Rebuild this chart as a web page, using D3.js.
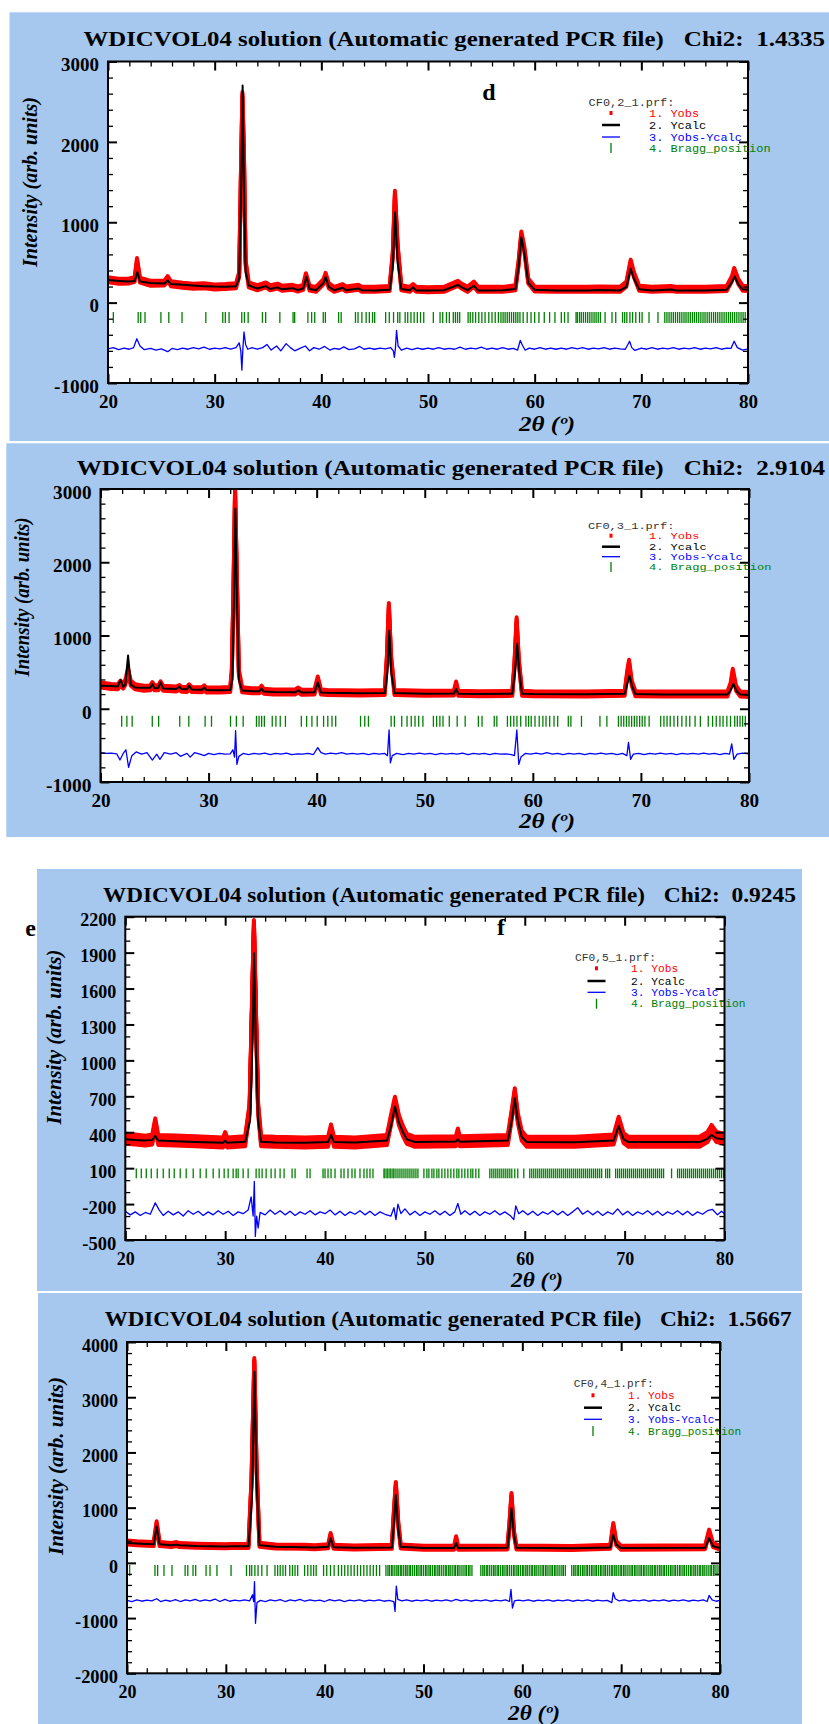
<!DOCTYPE html>
<html><head><meta charset="utf-8">
<script src="https://cdn.jsdelivr.net/npm/d3@7"></script>
<style>body{margin:0;background:#fff}svg{display:block}</style>
</head><body><svg id="c" width="829" height="1724"></svg>
<script>
// ---------------- DATA ----------------
const xTicks = [20,30,40,50,60,70,80];
const yTicksA = [-1000,0,1000,2000,3000];
const yTicksB = [-1000,0,1000,2000,3000];
const yTicksC = [-500,-200,100,400,700,1000,1300,1600,1900,2200];
const yTicksD = [-2000,-1000,0,1000,2000,3000,4000];
const fileNames = ['CF0,2_1.prf:','CF0,3_1.prf:','CF0,5_1.prf:','CF0,4_1.prf:'];
const chiValues = ['1.4335','2.9104','0.9245','1.5667'];
const legendLabels = ['1. Yobs','2. Ycalc','3. Yobs-Ycalc','4. Bragg_position'];
const titleText = 'WDICVOL04 solution (Automatic generated PCR file)';

// Panel A (CF0,2)
const obsA = [[20,285],[21,265],[22,270],[22.5,290],[22.72,525],[23.0,280],[24,240],[25.3,245],[25.6,300],[25.9,235],[27,215],[28,205],[29,210],[30,195],[31,200],[32,210],[32.3,350],[32.45,1500],[32.6,2590],[32.75,1800],[32.9,500],[33.2,220],[34,185],[34.8,220],[35.2,185],[35.9,205],[36.3,180],[37.3,190],[37.8,170],[38.3,190],[38.55,335],[38.9,180],[39.5,165],[40.2,260],[40.4,340],[40.7,210],[41.2,165],[42,200],[42.3,170],[43.5,190],[43.8,165],[45,165],[46.4,175],[46.7,600],[46.9,1360],[47.15,700],[47.5,185],[48.3,165],[48.6,200],[48.9,165],[50,160],[51.5,165],[52.8,240],[53.1,210],[53.7,165],[54.3,230],[54.7,165],[57,165],[58.2,185],[58.5,500],[58.75,855],[59.05,650],[59.4,270],[60,170],[62,165],[65,165],[66,170],[68,165],[68.6,230],[69.0,504],[69.3,350],[69.8,180],[71,165],[72.8,175],[73.3,165],[76,165],[78,175],[78.5,300],[78.7,400],[79.1,260],[79.5,180],[80,175]];
const calcA = [[20,280],[21,270],[22,262],[22.5,268],[22.75,380],[23.0,262],[24,245],[25.3,238],[25.6,275],[25.9,232],[27,222],[28,212],[29,205],[30,200],[31,198],[32,205],[32.3,300],[32.5,1500],[32.62,2700],[32.75,1400],[32.9,380],[33.2,215],[34,175],[34.8,205],[35.2,170],[35.9,190],[36.3,165],[37.3,180],[37.8,158],[38.3,175],[38.6,318],[38.9,170],[39.5,155],[40.2,245],[40.4,318],[40.7,195],[41.2,155],[42,185],[42.3,155],[43.5,175],[43.8,155],[45,152],[46.4,160],[46.7,450],[46.92,1124],[47.15,500],[47.5,170],[48.3,155],[48.6,190],[48.9,152],[50,150],[51.5,155],[52.8,220],[53.1,195],[53.7,155],[54.3,210],[54.7,152],[57,155],[58.2,170],[58.5,450],[58.75,814],[59.05,600],[59.4,245],[60,160],[62,152],[65,152],[66,157],[68,152],[68.6,195],[69.0,421],[69.3,300],[69.8,165],[71,152],[72.8,163],[73.3,152],[76,152],[78,160],[78.5,255],[78.75,326],[79.1,225],[79.5,165],[80,160]];
const diffA = [[20,-575],[20.5,-560],[21,-585],[21.5,-565],[22,-580],[22.4,-560],[22.7,-450],[23.0,-540],[23.4,-585],[24,-570],[24.5,-590],[25,-575],[25.6,-610],[26,-570],[26.5,-585],[27,-565],[27.5,-580],[28,-560],[28.5,-575],[29,-555],[29.5,-580],[30,-565],[30.5,-575],[31,-560],[31.5,-580],[32,-560],[32.3,-500],[32.45,-600],[32.55,-840],[32.65,-560],[32.75,-365],[32.9,-520],[33.1,-580],[33.5,-560],[34,-580],[34.5,-560],[34.9,-520],[35.3,-590],[35.8,-540],[36.2,-600],[36.7,-510],[37.1,-560],[37.5,-600],[38,-570],[38.5,-540],[38.9,-600],[39.3,-560],[39.8,-580],[40.3,-545],[40.8,-590],[41.2,-570],[41.7,-580],[42.1,-550],[42.6,-585],[43.1,-575],[43.6,-545],[44,-580],[44.5,-565],[45,-580],[45.5,-565],[46,-575],[46.5,-560],[46.75,-600],[46.85,-680],[46.95,-560],[47.05,-345],[47.2,-540],[47.5,-590],[48,-565],[48.5,-585],[49,-565],[49.5,-580],[50,-565],[50.5,-580],[51,-560],[51.5,-580],[52,-570],[52.5,-580],[53,-555],[53.5,-580],[54,-565],[54.5,-575],[55,-555],[55.5,-580],[56,-565],[56.5,-580],[57,-560],[57.5,-580],[58,-570],[58.4,-590],[58.65,-470],[58.85,-530],[59.1,-590],[59.5,-565],[60,-580],[60.5,-560],[61,-580],[61.5,-565],[62,-580],[62.5,-565],[63,-580],[63.5,-560],[64,-575],[64.5,-560],[65,-580],[65.5,-565],[66,-575],[66.5,-560],[67,-580],[67.5,-565],[68,-575],[68.5,-580],[68.9,-480],[69.1,-560],[69.4,-595],[70,-565],[70.5,-580],[71,-560],[71.5,-580],[72,-565],[72.5,-575],[73,-560],[73.5,-580],[74,-565],[74.5,-575],[75,-560],[75.5,-580],[76,-565],[76.5,-575],[77,-560],[77.5,-580],[78,-565],[78.4,-570],[78.7,-480],[79,-560],[79.5,-590],[80,-575]];
const braggA = [20.5,22.83,23.07,23.47,24.96,25.7,26.94,29.17,30.76,31.0,31.35,32.54,32.79,33.14,34.48,34.78,36.11,37.35,37.5,38.74,39.09,39.38,40.18,40.38,41.62,41.86,43.2,43.44,43.8,44.2,44.5,44.8,45.0,46.03,46.37,46.77,47.16,47.36,47.86,48.1,48.4,48.7,49.0,49.3,49.6,50.5,51.13,51.38,51.73,52.0,52.37,52.57,52.77,52.97,53.76,53.96,54.2,54.46,54.76,55.05,55.35,55.7,56.0,56.3,56.6,56.84,57.04,57.23,57.43,57.63,57.83,58.03,58.23,58.42,58.62,58.92,59.3,59.66,60.0,60.4,60.9,61.4,61.9,62.5,62.8,63.13,63.88,64.0,64.2,64.37,64.57,64.77,64.97,65.17,65.37,65.57,65.76,65.96,66.16,66.6,67.25,67.6,68.24,68.44,68.64,68.93,69.18,69.48,69.83,70.07,70.72,71.56,72.2,72.4,72.6,72.8,73.0,73.2,73.4,73.6,73.8,74.0,74.19,74.39,74.59,74.79,74.98,75.18,75.38,75.58,75.78,75.97,76.17,76.37,76.57,76.77,76.96,77.16,77.36,77.56,77.76,77.96,78.16,78.35,78.55,78.75,78.95,79.15,79.35,79.54,79.74];

// Panel B (CF0,3)
const obsB = [[20,325],[21,305],[21.6,300],[21.85,350],[22.1,310],[22.3,360],[22.55,520],[22.8,350],[23.2,300],[24,280],[24.6,285],[24.8,330],[25.0,285],[25.35,285],[25.55,340],[25.8,280],[27,270],[27.3,290],[27.5,265],[28.0,262],[28.2,300],[28.45,262],[29.4,260],[29.6,285],[29.8,255],[31,255],[32,262],[32.15,500],[32.3,1600],[32.45,2986],[32.6,1900],[32.8,500],[33.1,260],[34,245],[34.7,245],[34.9,280],[35.1,240],[36,230],[38,230],[38.3,255],[38.6,225],[39.8,230],[40.1,406],[40.4,230],[41,222],[44,215],[46.3,222],[46.5,700],[46.68,1411],[46.88,700],[47.2,222],[50,210],[52.7,215],[52.9,338],[53.1,210],[55,205],[58.1,210],[58.3,600],[58.5,1215],[58.7,650],[59.0,210],[60,205],[65,200],[68.5,210],[68.75,500],[68.9,635],[69.15,350],[69.5,205],[72,200],[78,200],[78.3,320],[78.5,511],[78.8,280],[79.2,200],[80,195]];
const calcB = [[20,315],[21,310],[21.6,305],[21.85,393],[22.1,300],[22.3,330],[22.55,726],[22.8,330],[23.2,290],[24,285],[24.6,285],[24.8,338],[25.0,280],[25.35,285],[25.55,360],[25.8,278],[27,270],[27.3,300],[27.5,268],[28.0,265],[28.2,315],[28.45,262],[29.4,258],[29.6,290],[29.8,256],[31,252],[32,255],[32.2,400],[32.35,1500],[32.48,2735],[32.62,1500],[32.8,400],[33.1,250],[34,240],[34.7,240],[34.9,275],[35.1,235],[36,228],[38,225],[38.3,250],[38.6,222],[39.8,225],[40.1,360],[40.4,222],[41,218],[44,212],[46.3,215],[46.55,500],[46.72,1068],[46.9,500],[47.2,215],[50,205],[52.7,208],[52.9,270],[53.1,205],[55,200],[58.1,205],[58.35,500],[58.55,886],[58.75,500],[59.0,205],[60,200],[65,198],[68.5,205],[68.75,350],[68.95,452],[69.2,300],[69.5,200],[72,195],[78,195],[78.3,250],[78.55,338],[78.85,240],[79.2,195],[80,192]];
const diffB = [[20,-600],[20.5,-610],[21,-605],[21.5,-615],[21.8,-700],[22.1,-610],[22.35,-560],[22.6,-800],[22.9,-640],[23.3,-590],[23.8,-620],[24.3,-600],[24.8,-700],[25.2,-620],[25.5,-690],[25.9,-600],[26.5,-620],[27,-600],[27.4,-650],[28,-610],[28.3,-660],[28.7,-600],[29.2,-620],[29.6,-640],[30,-610],[30.5,-625],[31,-610],[31.5,-620],[32,-615],[32.25,-560],[32.4,-660],[32.5,-300],[32.62,-760],[32.8,-650],[33.2,-610],[33.7,-625],[34.2,-610],[34.7,-620],[35.2,-605],[35.7,-625],[36.2,-610],[36.7,-620],[37.2,-605],[37.7,-625],[38.2,-615],[38.7,-620],[39.2,-610],[39.7,-625],[40.1,-530],[40.4,-600],[40.8,-620],[41.3,-605],[41.8,-615],[42.3,-600],[42.8,-620],[43.3,-610],[43.8,-620],[44.3,-610],[44.8,-625],[45.3,-610],[45.8,-620],[46.3,-610],[46.55,-640],[46.7,-290],[46.82,-740],[47.0,-640],[47.4,-610],[48,-625],[48.5,-610],[49,-620],[49.5,-605],[50,-620],[50.5,-610],[51,-625],[51.5,-610],[52,-620],[52.5,-610],[53,-620],[53.5,-605],[54,-625],[54.5,-610],[55,-620],[55.5,-610],[56,-625],[56.5,-610],[57,-620],[57.5,-615],[58,-625],[58.3,-640],[58.52,-290],[58.7,-760],[58.9,-660],[59.3,-610],[59.8,-620],[60.3,-605],[60.8,-620],[61.3,-600],[61.8,-620],[62.3,-610],[62.8,-625],[63.3,-610],[63.8,-620],[64.3,-610],[64.8,-625],[65.3,-610],[65.8,-620],[66.3,-605],[66.8,-620],[67.3,-610],[67.8,-625],[68.3,-610],[68.7,-640],[68.85,-460],[69.05,-690],[69.3,-620],[69.8,-610],[70.3,-625],[70.8,-610],[71.3,-620],[71.8,-605],[72.3,-620],[72.8,-610],[73.3,-625],[73.8,-610],[74.3,-620],[74.8,-610],[75.3,-620],[75.8,-605],[76.3,-620],[76.8,-610],[77.3,-625],[77.8,-610],[78.2,-620],[78.4,-480],[78.6,-690],[78.9,-620],[79.4,-605],[80,-615]];
const braggB = [21.96,22.44,22.93,24.79,25.38,27.33,28.17,29.68,30.27,32.03,32.57,33.2,34.43,34.67,34.91,35.16,35.89,36.23,36.63,37.11,38.58,39.07,39.56,40.05,40.64,41.03,41.42,41.76,44.06,44.45,44.79,46.89,47.19,47.87,48.36,48.75,49.1,49.44,49.83,50.8,51.1,51.4,51.69,52.27,53.0,53.74,54.96,55.3,56.43,56.67,57.65,57.95,58.24,58.53,58.88,59.36,59.61,59.85,60.2,60.59,60.93,61.22,61.56,61.96,62.3,63.28,63.52,64.5,66.21,66.85,67.92,68.17,68.41,68.66,68.9,69.14,69.39,69.63,69.88,70.12,70.37,70.76,71.83,72.13,72.42,72.71,73.06,73.4,73.79,74.18,74.52,75.01,75.5,76.23,76.63,76.97,77.31,77.6,77.95,78.29,78.68,78.92,79.17,79.41,79.66];

// Panel C (CF0,5)
const obsC = [[20,345],[21,340],[22,330],[22.7,340],[23.0,474],[23.3,335],[25,330],[27,325],[29.8,315],[30.0,360],[30.2,315],[32.0,325],[32.45,600],[32.7,1500],[32.88,2130],[33.05,1500],[33.3,600],[33.6,325],[35,320],[38,315],[40.3,320],[40.6,424],[40.9,320],[43,315],[46.2,335],[46.6,500],[47.0,655],[47.4,500],[47.8,410],[48.2,345],[49,320],[53.1,325],[53.3,390],[53.5,325],[58.3,335],[58.7,550],[59.0,725],[59.3,520],[59.7,370],[60.2,320],[65,320],[68.9,340],[69.4,488],[69.9,350],[70.4,320],[77.5,320],[78.3,360],[78.7,419],[79.2,360],[80,345]];
const calcC = [[20,341],[21,335],[22,332],[22.7,335],[23.0,369],[23.3,330],[25,325],[27,318],[29.8,312],[30.0,330],[30.2,312],[32.0,320],[32.5,500],[32.75,1200],[32.9,1894],[33.05,1200],[33.3,500],[33.6,320],[35,315],[38,312],[40.3,318],[40.6,377],[40.9,318],[43,315],[46.2,330],[46.6,450],[47.0,614],[47.4,480],[47.8,400],[48.2,340],[49,318],[53.1,322],[53.3,340],[53.5,320],[58.3,330],[58.7,500],[59.0,683],[59.3,500],[59.7,360],[60.2,318],[65,316],[68.9,330],[69.4,452],[69.9,340],[70.4,318],[77.5,318],[78.3,345],[78.7,377],[79.2,350],[80,340]];
const diffC = [[20,-260],[20.5,-290],[21,-265],[21.5,-295],[22,-270],[22.5,-285],[23.0,-190],[23.4,-250],[23.8,-295],[24.3,-260],[24.8,-290],[25.3,-265],[25.8,-300],[26.3,-255],[26.8,-285],[27.3,-260],[27.8,-295],[28.3,-265],[28.8,-290],[29.3,-255],[29.8,-285],[30.3,-260],[30.8,-295],[31.3,-265],[31.8,-280],[32.3,-250],[32.6,-140],[32.8,-300],[32.92,-10],[33.02,-470],[33.15,-300],[33.3,-400],[33.5,-270],[34,-290],[34.5,-250],[35,-285],[35.5,-255],[36,-290],[36.5,-260],[37,-295],[37.5,-265],[38,-285],[38.5,-255],[39,-290],[39.5,-265],[40,-280],[40.5,-250],[41,-290],[41.5,-260],[42,-295],[42.5,-265],[43,-285],[43.5,-255],[44,-290],[44.5,-260],[45,-295],[45.5,-265],[46,-285],[46.6,-300],[46.9,-230],[47.1,-330],[47.3,-200],[47.6,-280],[48,-240],[48.5,-290],[49,-260],[49.5,-295],[50,-265],[50.5,-285],[51,-255],[51.5,-290],[52,-260],[52.5,-295],[53,-265],[53.3,-195],[53.6,-285],[54,-255],[54.5,-290],[55,-260],[55.5,-295],[56,-265],[56.5,-285],[57,-255],[57.5,-290],[58,-265],[58.6,-300],[58.9,-330],[59.1,-215],[59.4,-280],[59.8,-255],[60.3,-290],[60.8,-260],[61.3,-295],[61.8,-265],[62.3,-285],[62.8,-255],[63.3,-290],[63.8,-260],[64.3,-295],[64.8,-265],[65.3,-230],[65.8,-285],[66.3,-255],[66.8,-290],[67.3,-260],[67.8,-295],[68.3,-265],[68.8,-285],[69.3,-240],[69.8,-290],[70.3,-260],[70.8,-295],[71.3,-265],[71.8,-285],[72.3,-255],[72.8,-290],[73.3,-260],[73.8,-295],[74.3,-265],[74.8,-285],[75.3,-255],[75.8,-290],[76.3,-260],[76.8,-295],[77.3,-265],[77.8,-285],[78.3,-255],[78.8,-245],[79.3,-290],[79.7,-260],[80,-280]];
const braggC = [21.1,21.6,22.1,22.6,23.2,23.8,24.4,24.9,25.5,26.1,26.8,27.5,28.1,28.8,29.4,29.9,30.3,30.8,31.1,31.3,31.8,32.3,33.1,33.4,33.7,34.1,34.6,35.0,35.5,35.9,36.7,37.0,38.2,38.5,39.8,40.0,40.3,40.6,41.0,41.6,41.9,42.3,42.7,43.0,43.5,43.9,44.2,44.5,44.8,45.9,46.0,46.2,46.3,46.5,46.6,46.8,46.9,47.1,47.3,47.5,47.7,47.9,48.1,48.3,48.5,48.7,48.9,49.1,49.3,49.9,50.2,50.4,50.7,50.9,51.2,51.4,51.7,52.0,52.3,52.6,52.9,53.2,53.4,53.7,54.0,54.3,54.6,54.8,55.1,55.4,56.5,56.7,56.9,57.1,57.3,57.5,57.7,57.9,58.1,58.3,58.5,58.7,59.0,59.3,59.9,60.5,60.7,60.9,61.1,61.3,61.5,61.7,61.9,62.1,62.3,62.5,62.7,62.9,63.1,63.3,63.5,63.7,63.9,64.1,64.3,64.5,64.7,64.9,65.1,65.3,65.5,65.7,65.9,66.1,66.3,66.5,66.7,66.9,67.1,67.3,67.5,67.7,68.1,68.3,68.5,69.1,69.3,69.5,69.7,69.9,70.1,70.3,70.5,70.7,70.9,71.1,71.3,71.5,71.7,71.9,72.1,72.3,72.5,72.7,72.9,73.1,73.3,73.5,73.7,73.9,74.7,75.3,75.5,75.7,75.9,76.1,76.3,76.5,76.7,76.9,77.1,77.3,77.5,77.7,77.9,78.1,78.3,78.5,78.7,78.9,79.1,79.3,79.5,79.7,79.9];

// Panel D (CF0,4)
const obsD = [[20,370],[21,355],[22,345],[22.7,340],[23.0,717],[23.3,340],[24.5,325],[25.0,340],[25.3,322],[27,310],[30,300],[30.5,305],[32.3,305],[32.6,1500],[32.88,3674],[33.1,1800],[33.4,330],[35,295],[38,290],[39,285],[40.35,300],[40.6,506],[40.9,290],[43,280],[46.8,290],[47.0,900],[47.2,1429],[47.45,700],[47.7,295],[50,272],[53.1,275],[53.3,446],[53.5,275],[58.5,280],[58.7,700],[58.9,1230],[59.15,550],[59.4,280],[65,270],[68.9,290],[69.2,687],[69.5,360],[70,272],[78.5,285],[78.9,566],[79.3,320],[80,275]];
const calcD = [[20,360],[21,350],[22,340],[22.7,335],[23.0,657],[23.3,335],[24.5,320],[25.0,330],[25.3,318],[27,305],[30,295],[30.5,300],[32.3,300],[32.65,1200],[32.9,3463],[33.1,1500],[33.4,320],[35,290],[38,285],[39,280],[40.35,290],[40.6,446],[40.9,285],[43,275],[46.8,280],[47.0,700],[47.2,1230],[47.45,600],[47.7,290],[50,268],[53.1,270],[53.3,360],[53.5,270],[58.5,275],[58.7,600],[58.9,988],[59.15,500],[59.4,275],[65,265],[68.9,280],[69.2,506],[69.5,330],[70,268],[78.5,275],[78.9,446],[79.3,300],[80,270]];
const diffD = [[20,-680],[20.5,-700],[21,-670],[21.5,-695],[22,-675],[22.5,-690],[23.0,-650],[23.4,-700],[23.9,-675],[24.4,-695],[24.9,-665],[25.4,-700],[25.9,-670],[26.4,-690],[26.9,-660],[27.4,-695],[27.9,-670],[28.4,-690],[28.9,-655],[29.4,-700],[29.9,-660],[30.4,-695],[30.9,-675],[31.4,-690],[31.9,-670],[32.4,-690],[32.7,-580],[32.82,-700],[32.9,-340],[33.0,-1095],[33.15,-720],[33.5,-680],[34,-700],[34.5,-670],[35,-690],[35.5,-665],[36,-700],[36.5,-670],[37,-690],[37.5,-660],[38,-695],[38.5,-670],[39,-690],[39.5,-675],[40,-700],[40.5,-665],[41,-690],[41.5,-670],[42,-700],[42.5,-675],[43,-690],[43.5,-670],[44,-695],[44.5,-675],[45,-690],[45.5,-670],[46,-695],[46.5,-680],[47.0,-700],[47.12,-880],[47.25,-420],[47.4,-660],[47.8,-690],[48.3,-670],[48.8,-695],[49.3,-675],[49.8,-690],[50.3,-670],[50.8,-695],[51.3,-675],[51.8,-690],[52.3,-670],[52.8,-695],[53.3,-660],[53.8,-690],[54.3,-670],[54.8,-695],[55.3,-675],[55.8,-690],[56.3,-670],[56.8,-695],[57.3,-675],[57.8,-690],[58.3,-670],[58.7,-700],[58.85,-480],[59.0,-820],[59.2,-690],[59.6,-675],[60.1,-690],[60.6,-670],[61.1,-695],[61.6,-675],[62.1,-690],[62.6,-670],[63.1,-695],[63.6,-675],[64.1,-690],[64.6,-670],[65.1,-695],[65.6,-675],[66.1,-690],[66.6,-670],[67.1,-695],[67.6,-675],[68.1,-690],[68.6,-680],[69.05,-720],[69.2,-540],[69.4,-650],[69.8,-690],[70.3,-670],[70.8,-695],[71.3,-675],[71.8,-690],[72.3,-670],[72.8,-695],[73.3,-675],[73.8,-690],[74.3,-670],[74.8,-695],[75.3,-675],[75.8,-690],[76.3,-670],[76.8,-695],[77.3,-675],[77.8,-690],[78.3,-670],[78.7,-700],[78.9,-590],[79.2,-670],[79.6,-695],[80,-680]];
const braggD = [20.27,22.83,23.1,23.74,24.55,25.88,26.15,26.68,26.95,28.0,28.4,29.1,30.53,32.09,32.41,32.62,32.94,33.26,33.64,34.17,34.97,35.24,35.5,35.78,36.04,36.47,36.74,37.0,37.27,37.97,38.29,38.61,38.88,39.14,39.89,40.21,40.59,40.96,41.39,41.71,42.03,42.35,42.67,42.99,43.32,43.64,43.96,44.28,44.6,44.92,45.24,45.56,
46.2,46.4,46.55,46.75,46.9,47.1,47.3,47.45,47.65,47.8,48.0,48.2,48.35,48.55,48.7,48.9,49.1,49.3,49.45,49.65,49.8,50.0,50.2,50.35,50.55,50.7,50.9,51.1,51.25,51.45,51.6,51.8,52.0,52.2,52.35,52.55,52.7,52.9,53.1,53.25,53.45,53.6,53.8,54.0,54.2,54.35,54.55,54.7,54.9,
55.8,56.0,56.15,56.35,56.5,56.7,56.9,57.1,57.25,57.45,57.6,57.8,58.0,58.15,58.35,58.5,58.7,58.9,59.1,59.25,59.45,59.6,59.8,60.0,60.15,60.35,60.5,60.7,60.9,61.05,61.25,61.4,61.6,61.8,62.0,62.15,62.35,62.5,62.7,62.9,63.05,63.25,63.4,63.6,63.8,64.0,64.15,64.35,
65.0,65.2,65.35,65.55,65.7,65.9,66.1,66.25,66.45,66.6,66.8,67.0,67.15,67.35,67.5,67.7,67.9,68.05,68.25,68.4,68.6,68.8,69.0,69.15,69.35,69.5,69.7,69.9,70.05,70.25,70.4,70.6,70.8,71.0,71.15,71.35,71.5,71.7,71.9,72.05,72.25,72.4,72.6,72.8,73.0,73.15,73.35,73.5,73.7,73.9,74.05,74.25,74.4,74.6,74.8,75.0,75.15,75.35,75.5,75.7,75.9,76.05,76.25,76.4,76.6,76.8,77.0,77.15,77.35,77.5,77.7,77.9,78.05,78.25,78.4,78.6,78.8,79.0,79.15,79.35,79.5,79.7,79.9];

// Bragg marker extents (data units)
const braggRangeA = [-252,-116], braggRangeB = [-247,-96], braggRangeC = [15,98], braggRangeD = [-237,-40];

// ---------------- LAYOUT ----------------
const panels = [
 {obs:obsA, calc:calcA, diff:diffA, bragg:braggA, br:braggRangeA, yTicks:yTicksA, minor:200, file:fileNames[0], chi:chiValues[0],
  bg:[9.5,12.3,829,441], plot:[108,61.5,748,383], title:[83.5,663.7,683.8,825,46], ylab:[29,182,170], xlab:[547,431,56],
  digit:9.5, leg:{hx:588.6, hy:101.7, rows:[113,125,137,148], sx:611, tx:649, fs:11, cw:7.15}, band:[-2.5,0,2.5], letters:[['d',489,92]]},
 {obs:obsB, calc:calcB, diff:diffB, bragg:braggB, br:braggRangeB, yTicks:yTicksB, minor:200, file:fileNames[1], chi:chiValues[1],
  bg:[6.3,443.3,829,837], plot:[100.5,489,749,782], title:[76.7,663.7,683.8,825,475], ylab:[21,597,159], xlab:[547,828,56],
  digit:9.6, leg:{hx:588, hy:525.7, rows:[535.7,546.7,556.7,567], sx:611, tx:649, fs:9.6, cw:7.2}, band:[-2.5,0,2.5], letters:[]},
 {obs:obsC, calc:calcC, diff:diffC, bragg:braggC, br:braggRangeC, yTicks:yTicksC, minor:100, file:fileNames[2], chi:chiValues[2],
  bg:[37,869,802,1291], plot:[125.3,916.7,724.5,1240], title:[103,645,663.7,796,902], ylab:[53,1037,175], xlab:[537,1287,52],
  digit:9, leg:{hx:575, hy:957.7, rows:[968.3,981,992.3,1003.7], sx:596.5, tx:631, fs:10.5, cw:6.74}, band:[-5,-2.5,0,2.5,5], letters:[['e',30.7,928],['f',501,927]]},
 {obs:obsD, calc:calcD, diff:diffD, bragg:braggD, br:braggRangeD, yTicks:yTicksD, minor:200, file:fileNames[3], chi:chiValues[3],
  bg:[38,1293,802,1724], plot:[127,1342,720,1673.3], title:[104.7,641.5,660,791.6,1326], ylab:[55.5,1466,178], xlab:[534,1720,52],
  digit:9, leg:{hx:573.8, hy:1383.7, rows:[1395.3,1407.7,1419.3,1431], sx:593, tx:628, fs:10.5, cw:6.65}, band:[-2,0,2], letters:[]}
];

const svg = d3.select('#c');
const serif = "'Liberation Serif','Times New Roman',serif";
const mono = "'Liberation Mono','DejaVu Sans Mono',monospace";

panels.forEach((P, i) => {
  const g = svg.append('g');
  const [px0, py0, px1, py1] = P.plot;
  g.append('rect').attr('x', P.bg[0]).attr('y', P.bg[1]).attr('width', P.bg[2]-P.bg[0]).attr('height', P.bg[3]-P.bg[1]).attr('fill', '#a6c8ee');
  g.append('rect').attr('x', px0).attr('y', py0).attr('width', px1-px0).attr('height', py1-py0).attr('fill', '#fff');

  const yDom = d3.extent(P.yTicks);
  const x = d3.scaleLinear().domain([20, 80]).range([px0, px1]);
  const y = d3.scaleLinear().domain(yDom).range([py1, py0]);

  const clipId = 'clip' + i;
  g.append('clipPath').attr('id', clipId).append('rect').attr('x', px0).attr('y', py0).attr('width', px1-px0).attr('height', py1-py0);
  const data = g.append('g').attr('clip-path', `url(#${clipId})`);

  // Bragg positions
  data.selectAll('line.bragg').data(P.bragg).enter().append('line')
    .attr('x1', d => x(d)).attr('x2', d => x(d)).attr('y1', y(P.br[0])).attr('y2', y(P.br[1]))
    .attr('stroke', '#008000').attr('stroke-width', 1.3);

  const line = d3.line().x(d => x(d[0])).y(d => y(d[1]));
  P.band.forEach(off => {
    data.append('path').attr('d', line(P.obs)).attr('transform', `translate(0,${off})`)
      .attr('fill', 'none').attr('stroke', '#ff0000').attr('stroke-width', 4).attr('stroke-linejoin', 'round');
  });
  data.append('path').attr('d', line(P.calc)).attr('fill', 'none').attr('stroke', '#000').attr('stroke-width', 2).attr('stroke-linejoin', 'round');
  data.append('path').attr('d', line(P.diff)).attr('fill', 'none').attr('stroke', '#0000ff').attr('stroke-width', 1.3).attr('stroke-linejoin', 'round');

  // axes
  const xMinor = d3.range(20, 80.001, 2).filter(v => !xTicks.includes(v));
  const yMinor = d3.range(yDom[0], yDom[1] + 0.001, P.minor).filter(v => !P.yTicks.includes(v));
  const styleAxis = (sel, w) => { sel.select('.domain').remove(); sel.selectAll('.tick line').attr('stroke', '#000').attr('stroke-width', w); };
  const fmt = d => String(d);
  const lab = (sel, dyShift) => sel.selectAll('text').attr('fill', '#000')
    .style('font-family', serif).style('font-weight', 'bold').style('font-size', '18px')
    .attr('textLength', d => String(Math.abs(d)).length * P.digit + (d < 0 ? 7 : 0))
    .attr('lengthAdjust', 'spacingAndGlyphs')
    .attr('y', function(){ return dyShift === null ? d3.select(this).attr('y') : dyShift; });

  g.append('g').attr('transform', `translate(0,${py1})`).call(d3.axisBottom(x).tickValues(xTicks).tickSizeInner(-9).tickSizeOuter(0).tickPadding(12).tickFormat(fmt)).call(s => styleAxis(s, 2)).call(s => lab(s, null));
  g.append('g').attr('transform', `translate(0,${py1})`).call(d3.axisBottom(x).tickValues(xMinor).tickSizeInner(-5).tickSizeOuter(0).tickFormat('')).call(s => styleAxis(s, 1.3));
  g.append('g').attr('transform', `translate(0,${py0})`).call(d3.axisTop(x).tickValues(xTicks).tickSizeInner(-9).tickSizeOuter(0).tickFormat('')).call(s => styleAxis(s, 2));
  g.append('g').attr('transform', `translate(0,${py0})`).call(d3.axisTop(x).tickValues(xMinor).tickSizeInner(-5).tickSizeOuter(0).tickFormat('')).call(s => styleAxis(s, 1.3));
  g.append('g').attr('transform', `translate(${px0},0)`).call(d3.axisLeft(y).tickValues(P.yTicks).tickSizeInner(-9).tickSizeOuter(0).tickPadding(9).tickFormat(fmt)).call(s => styleAxis(s, 2)).call(s => lab(s, 3.5));
  g.append('g').attr('transform', `translate(${px0},0)`).call(d3.axisLeft(y).tickValues(yMinor).tickSizeInner(-5).tickSizeOuter(0).tickFormat('')).call(s => styleAxis(s, 1.3));
  g.append('g').attr('transform', `translate(${px1},0)`).call(d3.axisRight(y).tickValues(P.yTicks).tickSizeInner(-9).tickSizeOuter(0).tickFormat('')).call(s => styleAxis(s, 2));
  g.append('g').attr('transform', `translate(${px1},0)`).call(d3.axisRight(y).tickValues(yMinor).tickSizeInner(-5).tickSizeOuter(0).tickFormat('')).call(s => styleAxis(s, 1.3));

  g.append('rect').attr('x', px0).attr('y', py0).attr('width', px1-px0).attr('height', py1-py0)
    .attr('fill', 'none').attr('stroke', '#000').attr('stroke-width', 2);

  // title
  const T = P.title;
  g.append('text').attr('x', T[0]).attr('y', T[4]).attr('textLength', T[1]-T[0]).attr('lengthAdjust', 'spacingAndGlyphs')
    .style('font-family', serif).style('font-weight', 'bold').style('font-size', '22px').text(titleText);
  g.append('text').attr('x', T[2]).attr('y', T[4]).attr('textLength', T[3]-T[2]).attr('lengthAdjust', 'spacingAndGlyphs')
    .style('font-family', serif).style('font-weight', 'bold').style('font-size', '22px').style('white-space', 'pre').text('Chi2:  ' + P.chi);

  // axis titles
  g.append('text').attr('transform', `translate(${P.ylab[0]},${P.ylab[1]}) rotate(-90)`).attr('text-anchor', 'middle')
    .attr('dy', '0.35em').attr('textLength', P.ylab[2]).attr('lengthAdjust', 'spacingAndGlyphs')
    .style('font-family', serif).style('font-weight', 'bold').style('font-style', 'italic').style('font-size', '22px')
    .text('Intensity (arb. units)');
  g.append('text').attr('x', P.xlab[0]).attr('y', P.xlab[1]).attr('text-anchor', 'middle')
    .attr('textLength', P.xlab[2]).attr('lengthAdjust', 'spacingAndGlyphs')
    .style('font-family', serif).style('font-weight', 'bold').style('font-style', 'italic').style('font-size', '20px')
    .text('2\u03B8 (\u00BA)');

  // panel letters
  P.letters.forEach(l => {
    g.append('text').attr('x', l[1]).attr('y', l[2]).attr('text-anchor', 'middle').attr('dy', '0.35em')
      .style('font-family', serif).style('font-weight', 'bold').style('font-size', '24px').text(l[0]);
  });

  // legend
  const Lg = P.leg;
  const colors = ['#ff0000', '#000000', '#0000ff', '#008000'];
  g.append('text').attr('x', Lg.hx).attr('y', Lg.hy).attr('dy', '0.35em').attr('fill', '#333')
    .attr('textLength', P.file.length * Lg.cw).attr('lengthAdjust', 'spacingAndGlyphs')
    .style('font-family', mono).style('font-size', Lg.fs + 'px').text(P.file);
  legendLabels.forEach((t, k) => {
    const ry = Lg.rows[k];
    g.append('text').attr('x', Lg.tx).attr('y', ry).attr('dy', '0.35em').attr('fill', colors[k])
      .attr('textLength', t.length * Lg.cw).attr('lengthAdjust', 'spacingAndGlyphs')
      .style('font-family', mono).style('font-size', Lg.fs + 'px').style('white-space', 'pre').text(t);
    if (k === 0) g.append('rect').attr('x', Lg.sx - 1.5).attr('y', ry - 2).attr('width', 3).attr('height', 4).attr('fill', colors[k]);
    if (k === 1) g.append('line').attr('x1', Lg.sx - 9).attr('x2', Lg.sx + 9).attr('y1', ry).attr('y2', ry).attr('stroke', colors[k]).attr('stroke-width', 2.5);
    if (k === 2) g.append('line').attr('x1', Lg.sx - 9).attr('x2', Lg.sx + 9).attr('y1', ry).attr('y2', ry).attr('stroke', colors[k]).attr('stroke-width', 1.3);
    if (k === 3) g.append('line').attr('x1', Lg.sx).attr('x2', Lg.sx).attr('y1', ry - 5).attr('y2', ry + 5).attr('stroke', colors[k]).attr('stroke-width', 1.3);
  });
});
</script>
</body></html>
